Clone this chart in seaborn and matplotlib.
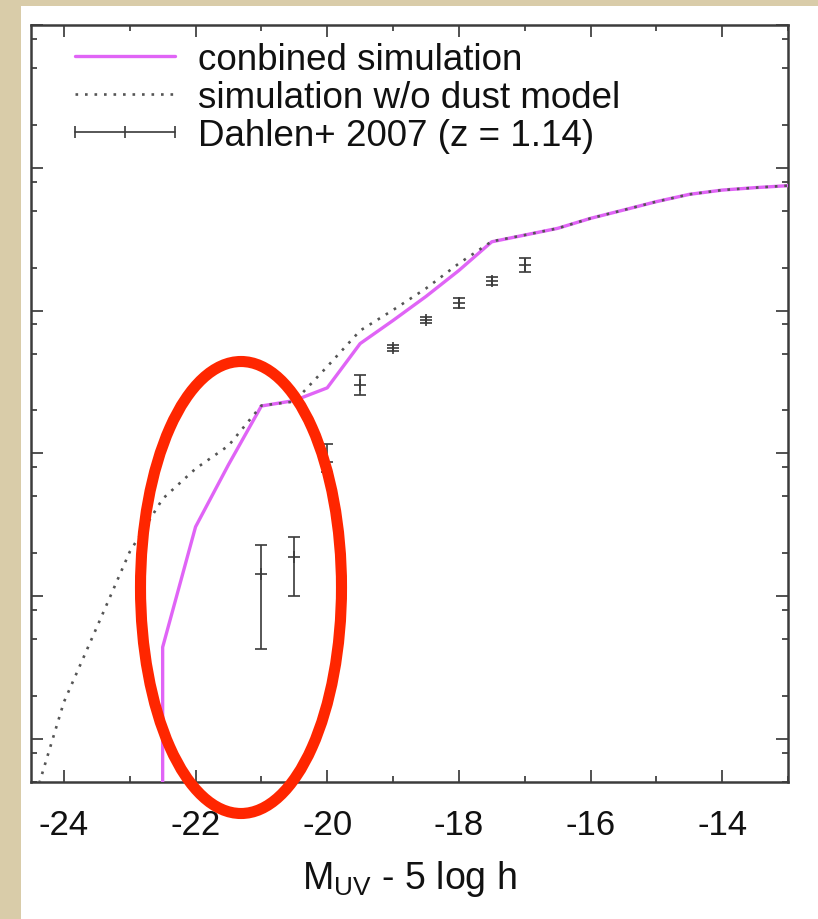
import numpy as np
import pandas as pd
import matplotlib
matplotlib.use("Agg")
import matplotlib.pyplot as plt
import seaborn as sns
from matplotlib.lines import Line2D
from matplotlib.patches import Ellipse, Rectangle
from matplotlib.legend_handler import HandlerBase
from matplotlib.ticker import LogLocator, NullFormatter, MultipleLocator

# UV luminosity function (log10 of number density) versus M_UV - 5 log h
combined_mag = [-22.5, -22.5, -22.0, -21.5, -21.0, -20.5, -20.0, -19.5, -19.0, -18.5,
                -18.0, -17.5, -17.0, -16.5, -16.0, -15.5, -15.0, -14.5, -14.0, -13.5, -13.0]
combined_logphi = [-8.0, -5.357, -4.514, -4.079, -3.668, -3.630, -3.541, -3.231, -3.069, -2.901,
                   -2.719, -2.518, -2.471, -2.424, -2.354, -2.296, -2.237, -2.186, -2.156, -2.139, -2.125]

nodust_mag = [-24.5, -24.0, -23.5, -23.0, -22.5, -22.0, -21.5, -21.0, -20.5, -20.0, -19.5,
              -19.0, -18.5, -18.0, -17.5, -17.0, -16.5, -16.0, -15.5, -15.0, -14.5, -14.0, -13.5, -13.0]
nodust_logphi = [-6.50, -5.741, -5.217, -4.689, -4.318, -4.107, -3.946, -3.665, -3.637, -3.392, -3.140,
                 -2.996, -2.845, -2.670, -2.515, -2.471, -2.424, -2.354, -2.296, -2.237, -2.186, -2.156, -2.139, -2.125]

# Dahlen et al. 2007, z = 1.14
obs_mag = [-21.0, -20.5, -20.0, -19.5, -19.0, -18.5, -18.0, -17.5, -17.0]
obs_logphi = [-4.844, -4.727, -4.060, -3.523, -3.261, -3.067, -2.950, -2.794, -2.682]
obs_logphi_hi = [-4.640, -4.586, -3.937, -3.453, -3.238, -3.046, -2.915, -2.763, -2.635]
obs_logphi_lo = [-5.370, -4.996, -4.130, -3.588, -3.285, -3.088, -2.980, -2.822, -2.728]

labels = ["conbined simulation", "simulation w/o dust model", "Dahlen+ 2007 (z = 1.14)"]
xticks = [-24, -22, -20, -18, -16, -14]

MAGENTA = "#e064f6"
DOTS = "#555555"
BAR = "#3a3a3a"

sns.set_theme(style="white")
plt.rcParams["font.family"] = ["Liberation Sans", "DejaVu Sans"]
plt.rcParams["axes.unicode_minus"] = False
plt.rcParams["mathtext.fontset"] = "custom"
plt.rcParams["mathtext.rm"] = "Liberation Sans"
plt.rcParams["mathtext.it"] = "Liberation Sans"

fig = plt.figure(figsize=(8.18, 9.2), dpi=100)
fig.patch.set_facecolor("#d9cca9")
fig.add_artist(Rectangle((21 / 818, 0), 1, 1 - 7 / 920, transform=fig.transFigure,
                         facecolor="white", edgecolor="none", zorder=0))

ax = fig.add_axes([31 / 818, 1 - 783 / 920, (788 - 31) / 818, (783 - 26) / 920])
ax.set_facecolor("white")

comb = pd.DataFrame({"mag": combined_mag, "phi": 10.0 ** np.array(combined_logphi)})
nod = pd.DataFrame({"mag": nodust_mag, "phi": 10.0 ** np.array(nodust_logphi)})

sns.lineplot(data=comb, x="mag", y="phi", ax=ax, estimator=None, sort=False,
             color=MAGENTA, lw=2.4, zorder=3)
sns.lineplot(data=nod, x="mag", y="phi", ax=ax, estimator=None, sort=False,
             color=DOTS, lw=1.9, linestyle=(0, (1, 2.6)), zorder=4)

phi = 10.0 ** np.array(obs_logphi)
err_lo = phi - 10.0 ** np.array(obs_logphi_lo)
err_hi = 10.0 ** np.array(obs_logphi_hi) - phi
ax.errorbar(obs_mag, phi, yerr=[err_lo, err_hi], fmt="+", color=BAR, ms=8, mew=1.2,
            elinewidth=1.2, capsize=4.3, capthick=1.2, zorder=5)

ax.set_yscale("log")
ax.set_xlim(-24.5, -13)
ax.set_ylim(5e-7, 1e-1)

ax.xaxis.set_major_locator(plt.FixedLocator(xticks))
ax.xaxis.set_minor_locator(MultipleLocator(1))
ax.yaxis.set_major_locator(LogLocator(base=10, numticks=20))
ax.yaxis.set_minor_locator(LogLocator(base=10, subs=(2, 5, 8), numticks=20))
ax.yaxis.set_major_formatter(NullFormatter())
ax.yaxis.set_minor_formatter(NullFormatter())
ax.tick_params(which="both", direction="in", top=True, right=True, left=True, bottom=True,
               color="#333333", width=1.2)
ax.tick_params(which="major", length=8.5)
ax.tick_params(which="minor", length=4.3)
ax.tick_params(axis="x", which="major", labelsize=25, pad=19, labelcolor="#111111")
for s in ax.spines.values():
    s.set_color("#3c3c3c")
    s.set_linewidth(1.8)

ax.set_xlabel(r"M$_{\mathregular{UV}}$ - 5 log h", fontsize=27, color="#111111", labelpad=12)
ax.set_ylabel("")


class GnuplotErrorbarHandler(HandlerBase):
    def create_artists(self, legend, orig_handle, xdescent, ydescent, width, height,
                       fontsize, trans):
        y = height / 2 - ydescent
        x0, x1 = -xdescent, width - xdescent
        line = Line2D([x0, x1], [y, y], color=BAR, lw=1.2)
        caps = Line2D([x0, x1], [y, y], ls="none", marker="|", ms=9, mew=1.2, color=BAR)
        mid = Line2D([(x0 + x1) / 2], [y], ls="none", marker="|", ms=8, mew=1.2, color=BAR)
        for a in (line, caps, mid):
            a.set_transform(trans)
        return [line, caps, mid]


h_comb = Line2D([], [], color=MAGENTA, lw=2.4)
h_nod = Line2D([], [], color=DOTS, lw=1.9, linestyle=(0, (1, 2.6)))
h_obs = Rectangle((0, 0), 1, 1)
leg = ax.legend([h_comb, h_nod, h_obs], labels,
                handler_map={Rectangle: GnuplotErrorbarHandler()},
                loc="upper left", bbox_to_anchor=(44 / 757, 1 - 17 / 757),
                frameon=False, fontsize=26.5, handlelength=2.72, handletextpad=0.63,
                labelspacing=0.08, borderpad=0, borderaxespad=0)
for t in leg.get_texts():
    t.set_color("#111111")

# Highlight around the bright end
fig.add_artist(Ellipse((241 / 818, 1 - 588.5 / 920), 201 / 818, 452 / 920,
                       transform=fig.transFigure, fill=False, edgecolor="#ff2600",
                       lw=8, zorder=10))

fig.savefig("out.png", dpi=100, facecolor=fig.get_facecolor())
